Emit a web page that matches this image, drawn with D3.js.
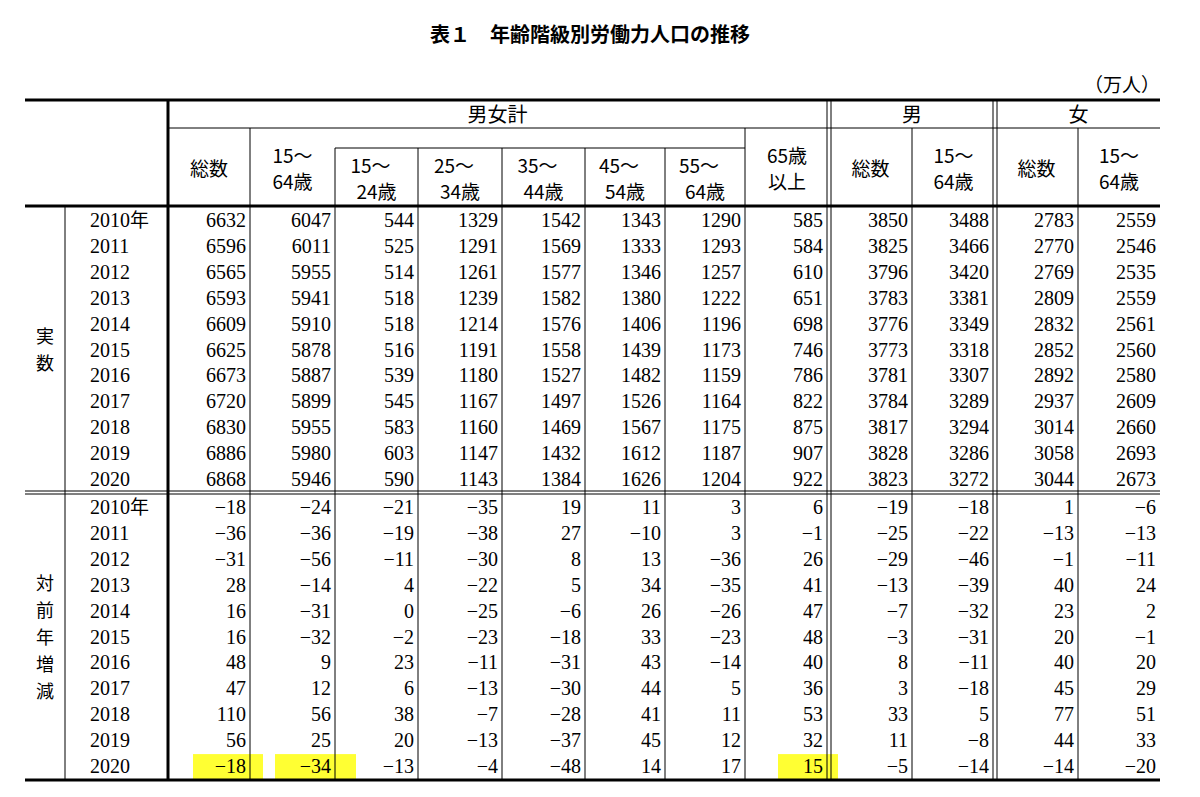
<!DOCTYPE html>
<html><head><meta charset="utf-8">
<script src="https://cdn.jsdelivr.net/npm/d3@7"></script>
<style>body{margin:0;background:#fff}</style></head>
<body><svg id="c" width="1200" height="797"></svg>
<script>
const years=["2010年","2011","2012","2013","2014","2015","2016","2017","2018","2019","2020"];
const colHeaders=[["総数"],["15～","64歳"],["15～","24歳"],["25～","34歳"],["35～","44歳"],["45～","54歳"],["55～","64歳"],["65歳","以上"],["総数"],["15～","64歳"],["総数"],["15～","64歳"]];
const actual=[
[6632,6047,544,1329,1542,1343,1290,585,3850,3488,2783,2559],
[6596,6011,525,1291,1569,1333,1293,584,3825,3466,2770,2546],
[6565,5955,514,1261,1577,1346,1257,610,3796,3420,2769,2535],
[6593,5941,518,1239,1582,1380,1222,651,3783,3381,2809,2559],
[6609,5910,518,1214,1576,1406,1196,698,3776,3349,2832,2561],
[6625,5878,516,1191,1558,1439,1173,746,3773,3318,2852,2560],
[6673,5887,539,1180,1527,1482,1159,786,3781,3307,2892,2580],
[6720,5899,545,1167,1497,1526,1164,822,3784,3289,2937,2609],
[6830,5955,583,1160,1469,1567,1175,875,3817,3294,3014,2660],
[6886,5980,603,1147,1432,1612,1187,907,3828,3286,3058,2693],
[6868,5946,590,1143,1384,1626,1204,922,3823,3272,3044,2673]];
const change=[
[-18,-24,-21,-35,19,11,3,6,-19,-18,1,-6],
[-36,-36,-19,-38,27,-10,3,-1,-25,-22,-13,-13],
[-31,-56,-11,-30,8,13,-36,26,-29,-46,-1,-11],
[28,-14,4,-22,5,34,-35,41,-13,-39,40,24],
[16,-31,0,-25,-6,26,-26,47,-7,-32,23,2],
[16,-32,-2,-23,-18,33,-23,48,-3,-31,20,-1],
[48,9,23,-11,-31,43,-14,40,8,-11,40,20],
[47,12,6,-13,-30,44,5,36,3,-18,45,29],
[110,56,38,-7,-28,41,11,53,33,5,77,51],
[56,25,20,-13,-37,45,12,32,11,-8,44,33],
[-18,-34,-13,-4,-48,14,17,15,-5,-14,-14,-20]];
const highlights=[[10,0],[10,1],[10,7]];

const svg=d3.select("#c");
const edges=[168,250,335,418,502,585,665,745,829,912,995,1078,1160];
const x=d3.scaleOrdinal().domain(d3.range(13)).range(edges);
const yA=d3.scaleBand().domain(d3.range(11)).range([207,492]);
const yB=d3.scaleBand().domain(d3.range(11)).range([494,779]);
const serif="'Liberation Serif','DejaVu Serif',serif";
const jp="'Noto Sans CJK JP',sans-serif";
const fmt=v=>v<0?"−"+(-v):String(v);

svg.append("text").attr("x",590).attr("y",42).attr("text-anchor","middle").attr("font-family",jp).attr("font-weight","bold").attr("font-size",20).text("表１　年齢階級別労働力人口の推移");
svg.append("text").attr("x",1160).attr("y",92).attr("text-anchor","end").attr("font-family",jp).attr("font-size",19).text("（万人）");

highlights.forEach(([r,c])=>{
  const b=yB(r);
  svg.append("rect").attr("x",x(c)+(c===7?33:25)).attr("y",b+1).attr("width",c===7?60:(x(c+1)-x(c))-12+(c===1?8:0)).attr("height",yB.bandwidth()).attr("fill","#ffff33");
});

const line=(x1,y1,x2,y2,w=1)=>svg.append("line").attr("x1",x1).attr("y1",y1).attr("x2",x2).attr("y2",y2).attr("stroke","#000").attr("stroke-width",w);
line(25,100,1160,100,3);
line(25,206,1160,206,3);
line(25,780,1160,780,3);
line(25,491,1160,491,1);line(25,494,1160,494,1);
line(168,128,1160,128,1);
line(335,148,745,148,1);
line(168,100,168,780,3);
line(65,206,65,780,1);
[827,831,993,997].forEach(v=>line(v,100,v,780,1));
[250,745].forEach(v=>line(v,128,v,780,1));
[335,418,502,585,665].forEach(v=>line(v,148,v,780,1));
[912,1078].forEach(v=>line(v,128,v,780,1));

const gh=[["男女計",168,827],["男",831,993],["女",997,1160]];
gh.forEach(g=>svg.append("text").attr("x",(g[1]+g[2])/2).attr("y",122).attr("text-anchor","middle").attr("font-family",jp).attr("font-size",20).text(g[0]));

colHeaders.forEach((h,i)=>{
  const cx=(x(i)+x(i+1))/2;
  const sub=i>=2&&i<=6;
  const t=svg.append("text").attr("text-anchor","middle").attr("font-family",jp).attr("font-size",19);
  if(h.length===1) t.append("tspan").attr("x",cx).attr("y",176).text(h[0]);
  else {
    const y0=sub?173:163;
    t.append("tspan").attr("x",cx-(sub?6:0)).attr("y",y0).text(h[0]);
    t.append("tspan").attr("x",cx).attr("y",y0+26).text(h[1]);
  }
});

const vlab=(chars,y0)=>chars.split("").forEach((c,i)=>svg.append("text").attr("x",45).attr("y",y0+i*27).attr("text-anchor","middle").attr("font-family",jp).attr("font-size",18).text(c));
vlab("実数",343);
vlab("対前年増減",590);

function section(data,y){
  years.forEach((yr,r)=>{
    svg.append("text").attr("x",90).attr("y",y(r)+y.bandwidth()/2+7).attr("font-family",serif).attr("font-size",20).text(yr.replace("年","")).append("tspan").attr("font-family",jp).attr("font-size",19).text(yr.endsWith("年")?"年":"");
    data[r].forEach((v,c)=>{
      svg.append("text").attr("x",x(c+1)-(c===7||c===9?6:4)).attr("y",y(r)+y.bandwidth()/2+7).attr("text-anchor","end").attr("font-family",serif).attr("font-size",20).text(fmt(v));
    });
  });
}
section(actual,yA);
section(change,yB);
</script></body></html>
